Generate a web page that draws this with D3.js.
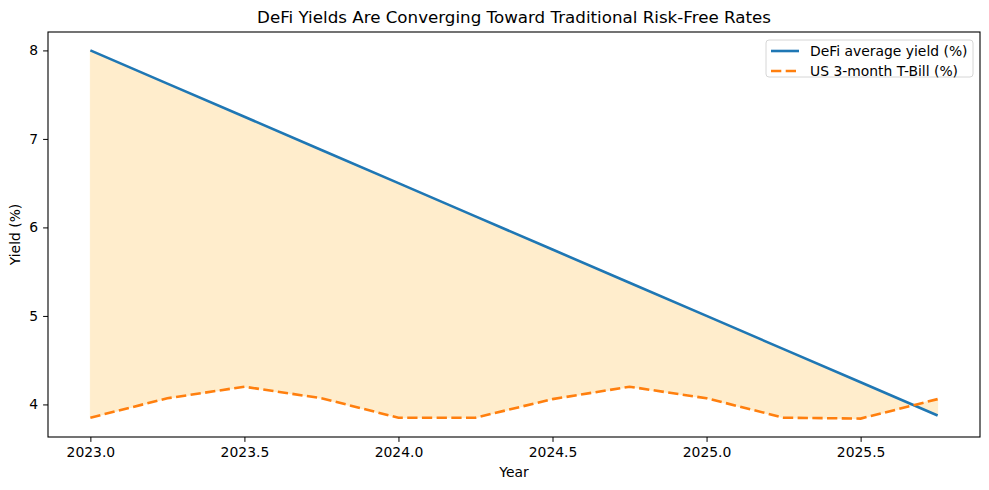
<!DOCTYPE html>
<html>
<head>
<meta charset="utf-8">
<script src="https://cdn.jsdelivr.net/npm/d3@7"></script>
<style>
  body { margin: 0; background: #fff; }
  svg text { font-family: "DejaVu Sans", sans-serif; fill: #000; }
</style>
</head>
<body>
<div class="canvas"></div>
<script>
// data
const years = [2023.0, 2023.25, 2023.5, 2023.75, 2024.0, 2024.25, 2024.5, 2024.75, 2025.0, 2025.25, 2025.5, 2025.75];
const defiYield = [8.0, 7.625, 7.25, 6.875, 6.5, 6.125, 5.75, 5.375, 5.0, 4.625, 4.25, 3.875];
const tbillYield = [3.85, 4.07, 4.2, 4.07, 3.85, 3.85, 4.06, 4.2, 4.07, 3.85, 3.84, 4.06];
const xTicks = [2023.0, 2023.5, 2024.0, 2024.5, 2025.0, 2025.5];
const yTicks = [4, 5, 6, 7, 8];
const seriesNames = ["DeFi average yield (%)", "US 3-month T-Bill (%)"];

const width = 989;
const height = 490;
const margin = { top: 32, right: 9, bottom: 53, left: 48 };
const graphWidth = width - margin.left - margin.right;
const graphHeight = height - margin.top - margin.bottom;

const rows = years.map((yr, i) => ({ yr, defi: defiYield[i], tbill: tbillYield[i] }));

const svg = d3
  .select(".canvas")
  .append("svg")
  .attr("width", width)
  .attr("height", height);

const graph = svg
  .append("g")
  .attr("transform", `translate(${margin.left}, ${margin.top})`);

// scales with matplotlib-like 5% padding
const xExt = d3.extent(years);
const xPad = (xExt[1] - xExt[0]) * 0.05;
const x = d3.scaleLinear().domain([xExt[0] - xPad, xExt[1] + xPad]).range([0, graphWidth]);

const yMin = d3.min([...defiYield, ...tbillYield]);
const yMax = d3.max([...defiYield, ...tbillYield]);
const yPad = (yMax - yMin) * 0.05;
const y = d3.scaleLinear().domain([yMin - yPad, yMax + yPad]).range([graphHeight, 0]);

// shaded gap between the two series
const area = d3
  .area()
  .x((d) => x(d.yr))
  .y0((d) => y(d.tbill))
  .y1((d) => y(d.defi));

graph
  .append("path")
  .datum(rows)
  .attr("fill", "#ffedcc")
  .attr("stroke", "#ffedcc")
  .attr("stroke-width", 1)
  .attr("d", area);

// lines
const defiLine = d3.line().x((d) => x(d.yr)).y((d) => y(d.defi));
const tbillLine = d3.line().x((d) => x(d.yr)).y((d) => y(d.tbill));

graph
  .append("path")
  .datum(rows)
  .attr("fill", "none")
  .attr("stroke", "#1f77b4")
  .attr("stroke-width", 2.6)
  .attr("d", defiLine);

graph
  .append("path")
  .datum(rows)
  .attr("fill", "none")
  .attr("stroke", "#ff7f0e")
  .attr("stroke-width", 2.6)
  .attr("stroke-dasharray", "10.3,4.4")
  .attr("d", tbillLine);

// axes
const xAxis = d3.axisBottom(x).tickValues(xTicks).tickFormat(d3.format(".1f")).tickSizeOuter(0).tickSize(4.9).tickPadding(4.9);
const yAxis = d3.axisLeft(y).tickValues(yTicks).tickFormat(d3.format("d")).tickSizeOuter(0).tickSize(4.9).tickPadding(4.9);

const xAxisGroup = graph.append("g").attr("transform", `translate(0, ${graphHeight})`).call(xAxis);
const yAxisGroup = graph.append("g").call(yAxis);

[xAxisGroup, yAxisGroup].forEach((g) => {
  g.select(".domain").remove();
  g.selectAll("line").attr("stroke", "#000").attr("stroke-width", 1);
  g.selectAll("text").attr("font-size", 13.9).attr("font-family", "DejaVu Sans");
});

// frame
graph
  .append("rect")
  .attr("width", graphWidth)
  .attr("height", graphHeight)
  .attr("fill", "none")
  .attr("stroke", "#000")
  .attr("stroke-width", 1.1);

// title and labels
svg
  .append("text")
  .attr("x", margin.left + graphWidth / 2)
  .attr("y", 23)
  .attr("text-anchor", "middle")
  .attr("font-size", 16.7)
  .text("DeFi Yields Are Converging Toward Traditional Risk-Free Rates");

svg
  .append("text")
  .attr("x", margin.left + graphWidth / 2)
  .attr("y", 477)
  .attr("text-anchor", "middle")
  .attr("font-size", 13.9)
  .text("Year");

svg
  .append("text")
  .attr("transform", `translate(20, ${margin.top + graphHeight / 2}) rotate(-90)`)
  .attr("text-anchor", "middle")
  .attr("font-size", 13.9)
  .text("Yield (%)");

// legend
const legend = svg.append("g").attr("transform", "translate(766, 40)");

legend
  .append("rect")
  .attr("width", 207)
  .attr("height", 37)
  .attr("rx", 3)
  .attr("fill", "#fff")
  .attr("fill-opacity", 0.8)
  .attr("stroke", "#d6d6d6");

const legendStyles = [
  { color: "#1f77b4", dash: null },
  { color: "#ff7f0e", dash: "10.3,4.4" },
];

seriesNames.forEach((name, i) => {
  const ly = 11 + i * 20;
  legend
    .append("line")
    .attr("x1", 5)
    .attr("x2", 33)
    .attr("y1", ly)
    .attr("y2", ly)
    .attr("stroke", legendStyles[i].color)
    .attr("stroke-width", 2.6)
    .attr("stroke-dasharray", legendStyles[i].dash);
  legend
    .append("text")
    .attr("x", 44)
    .attr("y", ly + 4.8)
    .attr("font-size", 13.9)
    .text(name);
});
</script>
</body>
</html>
